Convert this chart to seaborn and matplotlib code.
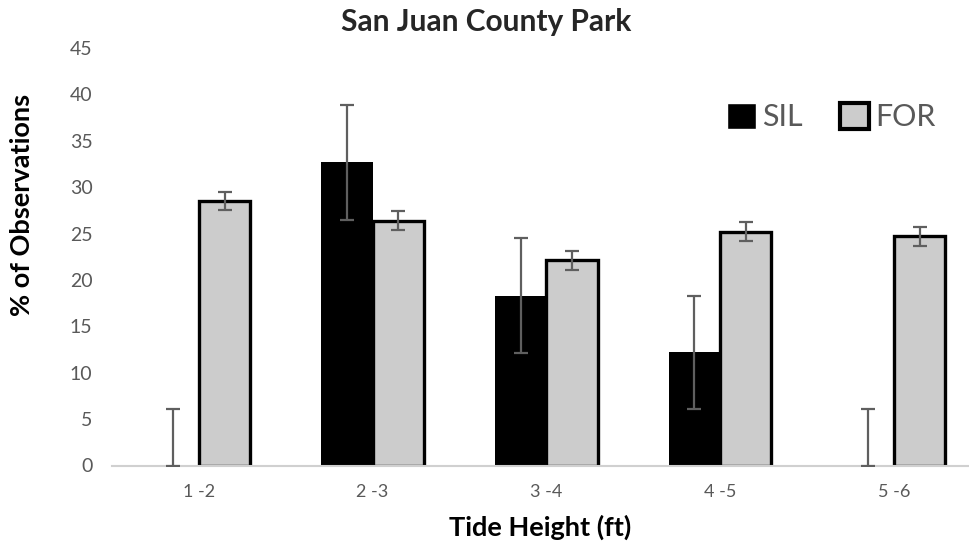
import numpy as np
import pandas as pd
import matplotlib
matplotlib.use("Agg")
import matplotlib.pyplot as plt
import seaborn as sns

# data
tide_bins = ["1 -2", "2 -3", "3 -4", "4 -5", "5 -6"]
sil_pct = [0.0, 32.7, 18.3, 12.2, 0.0]
sil_err = [6.1, 6.2, 6.2, 6.1, 6.1]
for_pct = [28.5, 26.4, 22.1, 25.2, 24.7]
for_err = [1.0, 1.0, 1.0, 1.0, 1.0]
groups = ["SIL", "FOR"]

df = pd.DataFrame({
    "bin": tide_bins * 2,
    "group": ["SIL"] * len(tide_bins) + ["FOR"] * len(tide_bins),
    "pct": sil_pct + for_pct,
    "err": sil_err + for_err,
})

sns.set_style("white")
plt.rcParams["font.family"] = ["Lato", "DejaVu Sans"]

GRAY_TXT = "#595959"
fig = plt.figure(figsize=(9.69, 5.5), dpi=100)
ax = fig.add_axes([112 / 969, 1 - 465.5 / 550, (969 - 112) / 969, (465.5 - 48) / 550])

sns.barplot(
    data=df,
    x="bin",
    y="pct",
    hue="group",
    hue_order=groups,
    order=tide_bins,
    palette={"SIL": "black", "FOR": "#cccccc"},
    width=0.59,
    gap=0,
    errorbar=None,
    ax=ax,
)

# style bars: SIL no edge, FOR black edge
n = len(tide_bins)
for i, patch in enumerate(ax.patches[: 2 * n]):
    if i < n:
        patch.set_edgecolor("none")
        patch.set_linewidth(0)
    else:
        patch.set_edgecolor("black")
        patch.set_linewidth(2.4)

# error bars at bar centres, clipped at zero below
for i, patch in enumerate(ax.patches[: 2 * n]):
    val = df["pct"].iloc[i]
    err = df["err"].iloc[i]
    xc = patch.get_x() + patch.get_width() / 2
    lower = min(err, val)
    ax.errorbar(
        xc, val, yerr=[[lower], [err]],
        fmt="none", ecolor="#5f5f5f", elinewidth=1.6,
        capsize=5, capthick=1.6, zorder=4,
    )

ax.set_xlim(-0.5, -0.5 + 857 / 173.75)
ax.set_ylim(0, 45)
ax.set_yticks(np.arange(0, 46, 5))
ax.tick_params(axis="y", labelsize=14, colors=GRAY_TXT, length=0, pad=14)
ax.tick_params(axis="x", labelsize=13, colors=GRAY_TXT, length=0, pad=13)

for side in ["left", "right", "top"]:
    ax.spines[side].set_visible(False)
ax.spines["bottom"].set_color("#d0d0d0")
ax.spines["bottom"].set_linewidth(1.5)

ax.set_xlabel("Tide Height (ft)", fontsize=19.5, fontweight="bold", color="black", labelpad=11)
ax.set_ylabel("% of Observations", fontsize=19.5, fontweight="bold", color="black")
ax.yaxis.set_label_coords(-0.091, 0.624)
fig.text(486 / 969, 1 - 22 / 550, "San Juan County Park", ha="center", va="center",
         fontsize=21.5, fontweight="bold")

handles, labels = ax.get_legend_handles_labels()
for h, g in zip(handles, labels):
    if g == "FOR":
        h.set_edgecolor("black")
        h.set_linewidth(3)
ax.legend(
    handles, labels, loc="upper left", bbox_to_anchor=(0.686, 0.935),
    frameon=False, ncol=2, fontsize=22, handlelength=0.95, handleheight=0.95,
    handletextpad=0.2, columnspacing=1.2, labelcolor=GRAY_TXT,
)

fig.savefig("out.png", dpi=100)
plt.close(fig)
